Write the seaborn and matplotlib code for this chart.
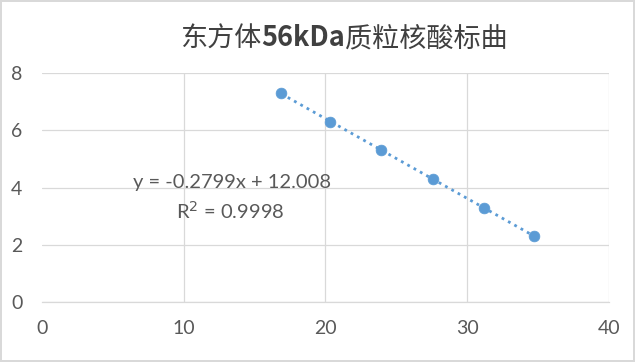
import numpy as np, pandas as pd, matplotlib.pyplot as plt
import seaborn as sns

# data
ct = [16.9, 20.3, 23.9, 27.6, 31.2, 34.7]
log_copies = [7.30, 6.30, 5.30, 4.30, 3.30, 2.30]
x_ticks = [0, 10, 20, 30, 40]
y_ticks = [0, 2, 4, 6, 8]
title_parts = ["东方体", "56kDa", "质粒核酸标曲"]
eq_text = "y = -0.2799x + 12.008"
r2_text = "R$^2$ = 0.9998"

df = pd.DataFrame({"ct": ct, "log": log_copies})

sns.set_theme(style="white")
plt.rcParams["font.family"] = ["Lato", "Noto Sans CJK SC", "DejaVu Sans"]

blue = "#5B9BD5"
grey_txt = "#595959"
grid_c = "#D9D9D9"

fig = plt.figure(figsize=(6.35, 3.62), dpi=100)
fig.patch.set_edgecolor(grid_c); fig.patch.set_linewidth(1.5)
ax = fig.add_axes([0.066, 0.166, 0.893, 0.632])

sns.regplot(data=df, x="ct", y="log", ax=ax, ci=None, scatter=False, truncate=True,
    line_kws=dict(color=blue, lw=2, ls=(0, (1, 1.6))))
sns.scatterplot(data=df, x="ct", y="log", ax=ax, color=blue, s=60,
    edgecolor=blue, linewidth=0.5, zorder=5)

ax.set_xlim(0, 40); ax.set_ylim(0, 8)
ax.set_xticks(x_ticks); ax.set_yticks(y_ticks)
ax.grid(True, color=grid_c, lw=0.9)
ax.get_xgridlines()[0].set_visible(False)
ax.set_axisbelow(True)
for s in ["top", "right", "left"]:
    ax.spines[s].set_visible(False)
ax.spines["bottom"].set_color(grid_c); ax.spines["bottom"].set_linewidth(0.9)
ax.tick_params(axis="both", length=0, labelsize=14, labelcolor=grey_txt)
ax.tick_params(axis="x", pad=13)
ax.tick_params(axis="y", pad=14)
ax.set_xlabel(""); ax.set_ylabel("")

ax.text(13.4, 4.17, eq_text, fontsize=14.5, color=grey_txt, ha="center", va="center")
ax.text(13.3, 3.17, r2_text, fontsize=14.5, color=grey_txt, ha="center", va="center")

# title in three pieces so the latin part can be bold, like the Excel original
cjk = ["Noto Sans CJK SC", "DejaVu Sans"]
t1 = fig.text(0.283, 0.855, title_parts[0], fontsize=19.5, color="#404040",
    ha="left", va="bottom", family=cjk)
t2 = ax.annotate(title_parts[1], xy=(1, 0), xycoords=t1, fontsize=19.5, color="#404040",
    fontweight="bold", ha="left", va="bottom", family=cjk, annotation_clip=False)
ax.annotate(title_parts[2], xy=(1, 0), xycoords=t2, fontsize=19.5, color="#404040",
    ha="left", va="bottom", family=cjk, annotation_clip=False)

plt.savefig("out.png", dpi=100)
